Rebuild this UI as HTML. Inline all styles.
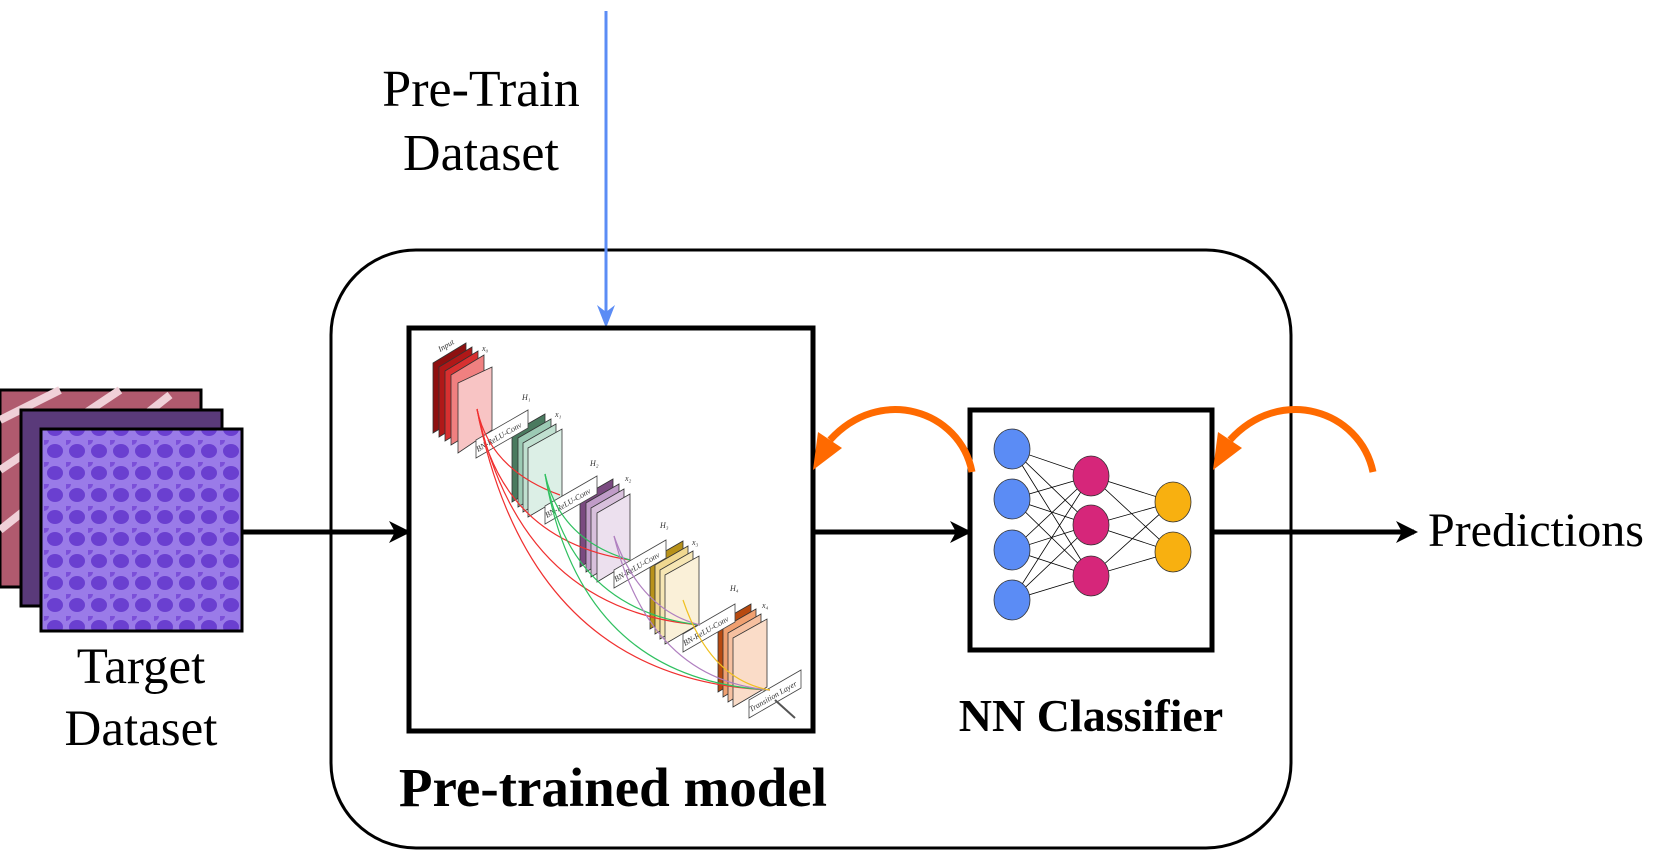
<!DOCTYPE html>
<html><head><meta charset="utf-8"><style>
html,body{margin:0;padding:0;background:#fff;}
body{width:1657px;height:852px;overflow:hidden;position:relative;font-family:"Liberation Serif",serif;}
.t{position:absolute;white-space:nowrap;color:#000;}
</style></head><body>
<svg width="1657" height="852" style="position:absolute;left:0;top:0">
<defs>
<marker id="ab" markerWidth="22" markerHeight="22" refX="18" refY="11" orient="auto" markerUnits="userSpaceOnUse"><path d="M0,0 L22,11 L0,22 L6,11 Z" fill="#000"/></marker>
<pattern id="cells" width="22" height="22" patternUnits="userSpaceOnUse">
<rect width="22" height="22" fill="#9a7be8"/>
<ellipse cx="11" cy="11" rx="8" ry="7" fill="#6a3fd0"/>
<ellipse cx="0" cy="0" rx="5" ry="5" fill="#7b4fd8"/>
</pattern>
</defs>
<rect x="331" y="250" width="960" height="598" rx="85" ry="85" fill="none" stroke="#000" stroke-width="3"/>
<line x1="606" y1="11" x2="606" y2="318" stroke="#5b8cf5" stroke-width="3"/>
<path d="M597,305 L606,328 L615,305 L606,312 Z" fill="#5b8cf5"/>
<rect x="0" y="390" width="201" height="197" fill="#b05a6e" stroke="#000" stroke-width="3"/>
<path d="M0,420 L60,390 M0,470 L120,390 M0,530 L170,395" stroke="#f0d0d8" stroke-width="8"/>
<rect x="21" y="410" width="201" height="196" fill="#5a3a7a" stroke="#000" stroke-width="3"/>
<rect x="41" y="429" width="201" height="202" fill="url(#cells)" stroke="#000" stroke-width="3"/>
<rect x="409" y="328" width="404" height="403" fill="#fff" stroke="#000" stroke-width="5"/>
<g stroke="#333" stroke-width="0.8">
<polygon points="433,363 466,343 466,413 433,433" fill="#8e1010"/>
<polygon points="439,367 472,347 472,417 439,437" fill="#b01818"/>
<polygon points="445,371 478,351 478,421 445,441" fill="#d83030"/>
<polygon points="451,375 484,355 484,425 451,445" fill="#f08080"/>
<polygon points="458,383 492,367 492,430 458,453" fill="#f8c4c4"/>
<polygon points="512,433 545,414 545,482 512,502" fill="#4a7a5f"/>
<polygon points="518,438 551,419 551,487 518,507" fill="#9ccab4"/>
<polygon points="523,443 556,424 556,492 523,512" fill="#c0e0d0"/>
<polygon points="528,448 562,429 562,497 528,517" fill="#dcefe6"/>
<polygon points="580,498 613,479 613,547 580,567" fill="#7a4a80"/>
<polygon points="586,503 619,484 619,552 586,572" fill="#c09cc8"/>
<polygon points="591,508 624,489 624,557 591,577" fill="#d8c0dc"/>
<polygon points="597,513 630,494 630,562 597,582" fill="#ece0ee"/>
<polygon points="650,560 683,541 683,609 650,629" fill="#b8921a"/>
<polygon points="655,565 688,546 688,614 655,634" fill="#f0d890"/>
<polygon points="660,570 693,551 693,619 660,639" fill="#f6e6b4"/>
<polygon points="665,575 699,556 699,624 665,644" fill="#faf0d8"/>
<polygon points="718,623 751,604 751,672 718,692" fill="#b84a10"/>
<polygon points="723,628 756,609 756,677 723,697" fill="#f0a070"/>
<polygon points="728,633 761,614 761,682 728,702" fill="#f6c0a0"/>
<polygon points="733,638 767,619 767,687 733,707" fill="#fadcc8"/>
</g>
<g fill="#fff" stroke="#444" stroke-width="0.8">
<polygon points="476,440 528,410 528,428 476,458"/>
<polygon points="545,506 597,476 597,494 545,524"/>
<polygon points="614,570 666,540 666,558 614,588"/>
<polygon points="683,634 735,604 735,622 683,652"/>
<polygon points="749,700 801,670 801,688 749,718"/>
</g>
<g font-family="Liberation Serif" font-size="8" font-style="italic" fill="#333">
<text x="478" y="452" transform="rotate(-30 478 452)">BN-ReLU-Conv</text>
<text x="547" y="518" transform="rotate(-30 547 518)">BN-ReLU-Conv</text>
<text x="616" y="582" transform="rotate(-30 616 582)">BN-ReLU-Conv</text>
<text x="685" y="646" transform="rotate(-30 685 646)">BN-ReLU-Conv</text>
<text x="751" y="712" transform="rotate(-30 751 712)">Transition Layer</text>
<text x="440" y="352" transform="rotate(-30 440 352)">Input</text>
<text x="482" y="351">x₀</text><text x="522" y="400">H₁</text><text x="555" y="417">x₁</text>
<text x="590" y="466">H₂</text><text x="625" y="481">x₂</text>
<text x="660" y="528">H₃</text><text x="692" y="545">x₃</text>
<text x="730" y="591">H₄</text><text x="762" y="608">x₄</text>
</g>
<g fill="none" stroke-width="1.2">
<path d="M477,409 Q490,470 560,495" stroke="#f03030"/>
<path d="M477,409 Q500,540 630,560" stroke="#f03030"/>
<path d="M477,409 Q520,610 700,625" stroke="#f03030"/>
<path d="M477,409 Q530,680 770,690" stroke="#f03030"/>
<path d="M545,474 Q560,540 630,560" stroke="#30c060"/>
<path d="M545,474 Q570,610 700,625" stroke="#30c060"/>
<path d="M545,474 Q580,680 770,690" stroke="#30c060"/>
<path d="M614,536 Q640,610 700,625" stroke="#b080c0"/>
<path d="M614,536 Q650,680 770,690" stroke="#b080c0"/>
<path d="M683,600 Q710,680 770,690" stroke="#f0c020"/>
<path d="M775,700 L795,718" stroke="#555" stroke-width="2"/>
</g>
<line x1="242" y1="532" x2="407" y2="532" stroke="#000" stroke-width="5" marker-end="url(#ab)"/>
<line x1="813" y1="532" x2="968" y2="532" stroke="#000" stroke-width="5" marker-end="url(#ab)"/>
<line x1="1212" y1="532" x2="1414" y2="532" stroke="#000" stroke-width="5" marker-end="url(#ab)"/>
<rect x="970" y="410" width="242" height="240" fill="#fff" stroke="#000" stroke-width="5"/>
<g stroke="#000" stroke-width="0.8">
<path d="M1012,449 L1091,476 M1012,449 L1091,525 M1012,449 L1091,576 M1012,499 L1091,476 M1012,499 L1091,525 M1012,499 L1091,576 M1012,550 L1091,476 M1012,550 L1091,525 M1012,550 L1091,576 M1012,600 L1091,476 M1012,600 L1091,525 M1012,600 L1091,576 M1091,476 L1173,502 M1091,476 L1173,552 M1091,525 L1173,502 M1091,525 L1173,552 M1091,576 L1173,502 M1091,576 L1173,552"/>
</g>
<g stroke="#333" stroke-width="0.8">
<ellipse cx="1012" cy="449" rx="18" ry="20" fill="#5b8cf5"/>
<ellipse cx="1012" cy="499" rx="18" ry="20" fill="#5b8cf5"/>
<ellipse cx="1012" cy="550" rx="18" ry="20" fill="#5b8cf5"/>
<ellipse cx="1012" cy="600" rx="18" ry="20" fill="#5b8cf5"/>
<ellipse cx="1091" cy="476" rx="18" ry="20" fill="#d6267a"/>
<ellipse cx="1091" cy="525" rx="18" ry="20" fill="#d6267a"/>
<ellipse cx="1091" cy="576" rx="18" ry="20" fill="#d6267a"/>
<ellipse cx="1173" cy="502" rx="18" ry="20" fill="#f8b010"/>
<ellipse cx="1173" cy="552" rx="18" ry="20" fill="#f8b010"/>
</g>
<path d="M972,472 C960,410 880,385 830,440" fill="none" stroke="#ff6a00" stroke-width="7"/>
<path d="M813,470 L818,432 L842,448 Z" fill="#ff6a00"/>
<path d="M1373,472 C1360,410 1280,385 1230,440" fill="none" stroke="#ff6a00" stroke-width="7"/>
<path d="M1213,470 L1218,432 L1242,448 Z" fill="#ff6a00"/>
</svg>
<div class="t" style="left:381px;top:58px;font-size:52px;line-height:64px;text-align:center;width:200px;">Pre-Train<br>Dataset</div>
<div class="t" style="left:41px;top:636px;font-size:51px;line-height:62px;text-align:center;width:200px;">Target<br>Dataset</div>
<div class="t" style="left:1428px;top:503px;font-size:48px;">Predictions</div>
<div class="t" style="left:941px;top:689px;font-size:46px;font-weight:bold;width:300px;text-align:center;">NN Classifier</div>
<div class="t" style="left:393px;top:756px;font-size:55px;font-weight:bold;width:440px;text-align:center;">Pre-trained model</div>
</body></html>
